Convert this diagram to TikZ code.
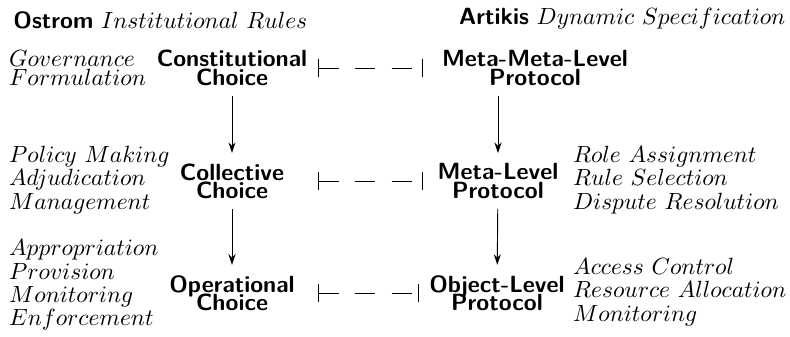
\documentclass[tikz,border=0pt]{standalone}
\usetikzlibrary{arrows.meta}
\begin{document}
\begin{tikzpicture}[x=0.4264pt,y=-0.4264pt,
  stage/.style={font={\sffamily\bfseries\fontsize{10}{7.8}\selectfont\lineskiplimit=-20pt},
    align=center, inner sep=4.3pt},
  leftstage/.style={stage, minimum width=73.3pt},
  rightstage/.style={stage, minimum width=64pt},
  note/.style={font={\fontsize{10}{10}\selectfont\lineskiplimit=-20pt},
    align=left, anchor=west, inner sep=2pt},
  tightnote/.style={note, font={\fontsize{10}{7.8}\selectfont\lineskiplimit=-20pt}},
  heading/.style={inner sep=0pt},
  flow/.style={-{Stealth[length=4.5pt,width=3pt]}},
  link/.style={{Bar[width=7.5pt]}-{Bar[width=7.5pt]}, dash pattern=on 8.5pt off 7pt}
]
\useasboundingbox (0,0) rectangle (790,337);

% column headings
\node[heading, anchor=west] (ostrom) at (13,20) {\textsf{\textbf{Ostrom}} $Institutional\ Rules$};
\node[heading, anchor=east] (artikis) at (786,19) {\textsf{\textbf{Artikis}} $Dynamic\ Specification$};

% levels of choice
\node[leftstage] (cc) at (232,68) {Constitutional\\Choice};
\node[leftstage] (colc) at (232,181) {Collective\\Choice};
\node[leftstage] (opc) at (232,293) {Operational\\Choice};

% protocol levels
\node[stage] (mml) at (535,68) {Meta-Meta-Level\\Protocol};
\node[rightstage] (ml) at (498,181) {Meta-Level\\Protocol};
\node[rightstage] (ol) at (497,293) {Object-Level\\Protocol};

% activities
\node[tightnote] (gov) at (4,68) {$Governance$\\$Formulation$};
\node[note] (pol) at (4,180) {$Policy\ Making$\\$Adjudication$\\$Management$};
\node[note] (app) at (4,285) {$Appropriation$\\$Provision$\\$Monitoring$\\$Enforcement$};
\node[note] (role) at (568,180) {$Role\ Assignment$\\$Rule\ Selection$\\$Dispute\ Resolution$};
\node[note] (acc) at (568,292) {$Access\ Control$\\$Resource\ Allocation$\\$Monitoring$};

% downward flow
\draw[flow] (cc) -- (colc);
\draw[flow] (colc) -- (opc);
\draw[flow] (mml.south -| ml.north) -- (ml.north);
\draw[flow] (ml) -- (ol);

% correspondences
\draw[link] (cc.east) -- (cc.east -| ml.west);
\draw[link] (colc.east) -- (ml.west);
\draw[link] (opc.east) -- (ol.west);
\end{tikzpicture}
\end{document}
